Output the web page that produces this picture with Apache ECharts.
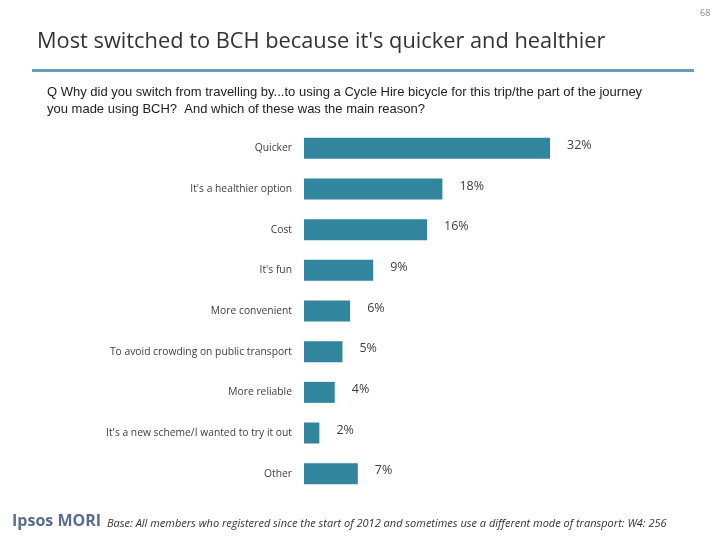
<!DOCTYPE html>
<html><head><meta charset="utf-8">
<script src="https://cdn.jsdelivr.net/npm/echarts@6/dist/echarts.min.js"></script>
<style>html,body{margin:0;padding:0;background:#fff}#c{width:720px;height:540px}</style>
</head><body><div id="c"></div>
<script>
const categories = ["Quicker","It's a healthier option","Cost","It's fun","More convenient","To avoid crowding on public transport","More reliable","It's a new scheme/I wanted to try it out","Other"];
const values = [32,18,16,9,6,5,4,2,7];
const titleText = "Most switched to BCH because it's quicker and healthier";
const questionLines = ["Q Why did you switch from travelling by...to using a Cycle Hire bicycle for this trip/the part of the journey","you made using BCH?  And which of these was the main reason?"];
const baseText = "Base: All members who registered since the start of 2012 and sometimes use a different mode of transport: W4: 256";

const chart = echarts.init(document.getElementById('c'));
chart.setOption({
  animation:false,
  grid:{left:304,right:170,top:128,bottom:46},
  xAxis:{type:'value',min:0,max:32,show:false},
  yAxis:{type:'category',data:categories,inverse:true,
    axisLine:{show:false},axisTick:{show:false},
    axisLabel:{margin:12,fontFamily:'Open Sans',fontSize:10.3,color:'#404040'}},
  series:[{type:'bar',data:values,barWidth:21,
    itemStyle:{color:'#31859c'},
    label:{show:true,position:'right',distance:17,formatter:'{c}%',fontFamily:'Open Sans',fontSize:12.5,color:'#404040',offset:[0,-3]}}],
  graphic:[
    {type:'text',left:37,top:31,style:{text:titleText,fontFamily:'Open Sans',fontSize:21.8,fill:'#333'}},
    {type:'rect',shape:{x:32,y:69,width:662,height:3},style:{fill:'#5ea3b5'}},
    {type:'text',left:47,top:84,style:{text:questionLines.join('\n'),fontFamily:'Liberation Sans',fontSize:13,lineHeight:17,fill:'#222'}},
    {type:'text',left:700,top:9,style:{text:'68',fontFamily:'Open Sans',fontSize:9,fill:'#888'}},
    {type:'text',left:12,top:513,style:{text:'Ipsos MORI',fontFamily:'Open Sans',fontSize:16,fontWeight:'bold',fill:'#5a6b8c'}},
    {type:'text',left:107,top:518,style:{text:baseText,fontFamily:'Open Sans',fontStyle:'italic',fontSize:11,fill:'#333'}}
  ]
});
</script></body></html>
